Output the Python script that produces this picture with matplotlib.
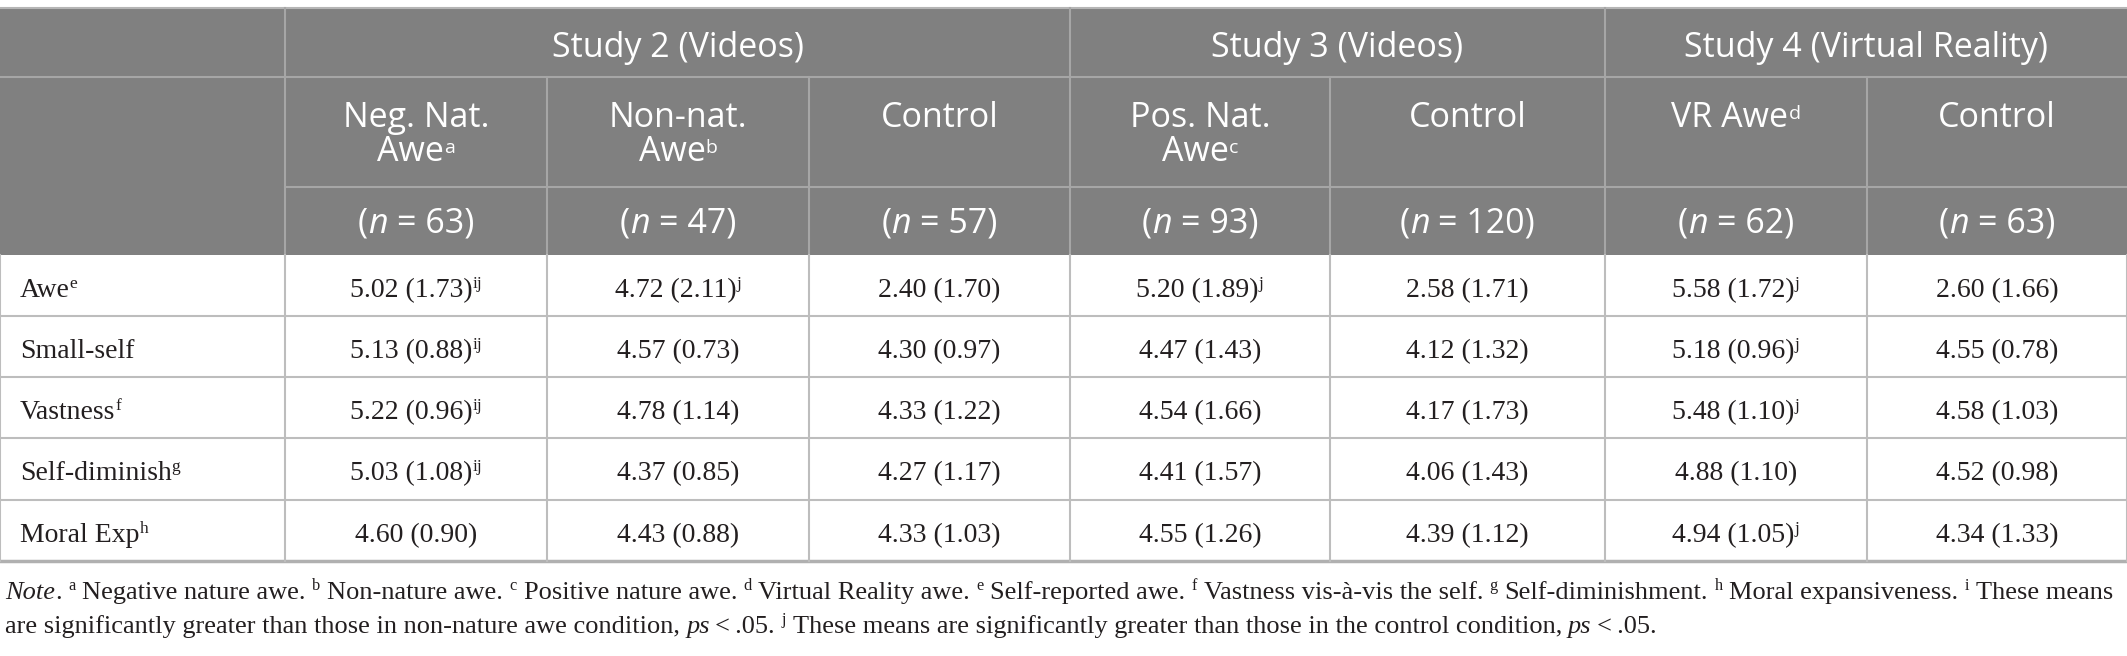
import matplotlib
matplotlib.use("Agg")
import matplotlib.pyplot as plt
from matplotlib.patches import Rectangle

# ---- table content
studies = ["Study 2 (Videos)", "Study 3 (Videos)", "Study 4 (Virtual Reality)"]
study_span = [3, 2, 2]
cond_line1 = ["Neg. Nat.", "Non-nat.", "Control", "Pos. Nat.", "Control", "VR Awe", "Control"]
cond_line2 = ["Awe", "Awe", "", "Awe", "", "", ""]
cond_sup = ["a", "b", "", "c", "", "d", ""]
ns = [63, 47, 57, 93, 120, 62, 63]

measures = ["Awe", "Small-self", "Vastness", "Self-diminish", "Moral Exp"]
measure_sup = ["e", "", "f", "g", "h"]
means = [[5.02, 4.72, 2.40, 5.20, 2.58, 5.58, 2.60],
         [5.13, 4.57, 4.30, 4.47, 4.12, 5.18, 4.55],
         [5.22, 4.78, 4.33, 4.54, 4.17, 5.48, 4.58],
         [5.03, 4.37, 4.27, 4.41, 4.06, 4.88, 4.52],
         [4.60, 4.43, 4.33, 4.55, 4.39, 4.94, 4.34]]
sds = [[1.73, 2.11, 1.70, 1.89, 1.71, 1.72, 1.66],
       [0.88, 0.73, 0.97, 1.43, 1.32, 0.96, 0.78],
       [0.96, 1.14, 1.22, 1.66, 1.73, 1.10, 1.03],
       [1.08, 0.85, 1.17, 1.57, 1.43, 1.10, 0.98],
       [0.90, 0.88, 1.03, 1.26, 1.12, 1.05, 1.33]]
sig = [["ij", "j", "", "j", "", "j", ""],
       ["ij", "", "", "", "", "j", ""],
       ["ij", "", "", "", "", "j", ""],
       ["ij", "", "", "", "", "", ""],
       ["", "", "", "", "", "j", ""]]

# footnote: (text, kind) kind: '' normal, 'i' italic, 's' superscript
note1 = [("Note", "i"), (". ", ""), ("a", "s"), (" Negative nature awe. ", ""), ("b", "s"),
         (" Non-nature awe. ", ""), ("c", "s"), (" Positive nature awe. ", ""), ("d", "s"),
         (" Virtual Reality awe. ", ""), ("e", "s"), (" Self-reported awe. ", ""), ("f", "s"),
         (" Vastness vis-\u00e0-vis the self. ", ""), ("g", "s"), (" Self-diminishment. ", ""),
         ("h", "s"), (" Moral expansiveness. ", ""), ("i", "s"), (" These means", "")]
note2 = [("are significantly greater than those in non-nature awe condition, ", ""), ("ps", "i"),
         ("\u2009<\u2009.05. ", ""), ("j", "s"),
         (" These means are significantly greater than those in the control condition, ", ""),
         ("ps", "i"), ("\u2009<\u2009.05.", "")]

# ---- layout (pixels)
W, H = 2127, 656
col_x = [0, 285, 547, 809, 1070, 1330, 1605, 1867, 2127]
head_y = [8, 77, 187, 255]
row_y = [255, 316, 377, 438, 500, 561]
HEAD_BG = "#808080"
HEAD_LINE = "#a6a6a6"
BODY_LINE = "#bdbdbd"
TXT = "#231f20"
SANS = "Open Sans"
SERIF = "Liberation Serif"
fs_head = 24.5
fs_body = 20

fig = plt.figure(figsize=(W / 100, H / 100), dpi=100)
ax = fig.add_axes([0, 0, 1, 1])
ax.set_xlim(0, W)
ax.set_ylim(H, 0)
ax.axis("off")
renderer = fig.canvas.get_renderer()


def text_w(s, **kw):
    t = ax.text(0, 0, s, **kw)
    w = t.get_window_extent(renderer).width
    t.remove()
    return w


def adv(s, **kw):
    return text_w("|" + s + "|", **kw) - text_w("||", **kw)


def draw_runs(x, y, runs, ha="left"):
    # runs: (text, props, rise)
    widths = [adv(s, **p) for s, p, r in runs]
    total = sum(widths)
    x0 = x
    if ha == "center":
        x0 = x - total / 2
    elif ha == "right":
        x0 = x - total
    for (s, p, r), w in zip(runs, widths):
        lead = len(s) - len(s.lstrip())
        xs = x0 + (adv(s[:lead], **p) if lead else 0)
        if s.strip():
            ax.text(xs, y - r, s.strip(), ha="left", va="baseline", **p)
        x0 += w
    return total


# ---- header background and lines
ax.add_patch(Rectangle((0, head_y[0]), W, head_y[3] - head_y[0], color=HEAD_BG, lw=0, zorder=0))
ax.plot([0, W], [head_y[0], head_y[0]], color="#b5b5b5", lw=1.5)
ax.plot([0, W], [head_y[1], head_y[1]], color=HEAD_LINE, lw=1.5)
ax.plot([col_x[1], W], [head_y[2], head_y[2]], color=HEAD_LINE, lw=1.5)
study_edges = [col_x[1]]
k = 1
for sp in study_span:
    k += sp
    study_edges.append(col_x[k])
for xe in [col_x[1]] + study_edges[1:-1]:
    ax.plot([xe, xe], [head_y[0], head_y[3]], color=HEAD_LINE, lw=1.5)
for xe in col_x[2:-1]:
    if xe not in study_edges:
        ax.plot([xe, xe], [head_y[1], head_y[3]], color=HEAD_LINE, lw=1.5)

hp = dict(family=SANS, fontsize=fs_head, color="white")
hsup = dict(family=SANS, fontsize=14, color="white")
for i, st in enumerate(studies):
    xc = (study_edges[i] + study_edges[i + 1]) / 2
    draw_runs(xc, 57, [(st, hp, 0)], ha="center")

for j in range(len(ns)):
    xc = (col_x[j + 1] + col_x[j + 2]) / 2
    if cond_line2[j]:
        draw_runs(xc, 127, [(cond_line1[j], hp, 0)], ha="center")
        draw_runs(xc, 161, [(cond_line2[j], hp, 0), (cond_sup[j], hsup, 8)], ha="center")
    else:
        runs = [(cond_line1[j], hp, 0)]
        if cond_sup[j]:
            runs.append((cond_sup[j], hsup, 8))
        draw_runs(xc, 127, runs, ha="center")
    hit = dict(hp, style="italic")
    draw_runs(xc, 233, [("(", hp, 0), ("n", hit, 0), (" = %d)" % ns[j], hp, 0)], ha="center")

# ---- body
bp = dict(family=SERIF, fontsize=fs_body, color=TXT)
bsup = dict(family=SERIF, fontsize=12.5, color=TXT)
for yy in row_y[1:-1]:
    ax.plot([0, W], [yy, yy], color=BODY_LINE, lw=1.5)
ax.plot([0, W], [row_y[-1], row_y[-1]], color="#b0b0b0", lw=2.5)
for xe in col_x:
    ax.plot([xe, xe], [row_y[0], row_y[-1]], color=BODY_LINE, lw=1.5)

for i, m in enumerate(measures):
    yb = row_y[i] + 42
    runs = [(m, bp, 0)]
    if measure_sup[i]:
        runs.append((measure_sup[i], bsup, 9))
    draw_runs(20, yb, runs)
    for j in range(len(ns)):
        xc = (col_x[j + 1] + col_x[j + 2]) / 2
        runs = [("%.2f (%.2f)" % (means[i][j], sds[i][j]), bp, 0)]
        if sig[i][j]:
            runs.append((sig[i][j], bsup, 9))
        draw_runs(xc, yb, runs, ha="center")


# ---- footnote
def note_runs(parts, fs):
    out = []
    for s, kind in parts:
        if kind == "s":
            out.append((s, dict(family=SERIF, fontsize=fs * 0.62, color=TXT), fs * 0.45))
        elif kind == "i":
            out.append((s, dict(family=SERIF, fontsize=fs, color=TXT, style="italic"), 0))
        else:
            out.append((s, dict(family=SERIF, fontsize=fs, color=TXT), 0))
    return out


fs_note = 17.0
total = sum(adv(s, **p) for s, p, r in note_runs(note1, fs_note))
fs_note = fs_note * 2106 / total
draw_runs(5, 599, note_runs(note1, fs_note))
draw_runs(5, 633, note_runs(note2, fs_note))

fig.savefig("out.png", dpi=100)
